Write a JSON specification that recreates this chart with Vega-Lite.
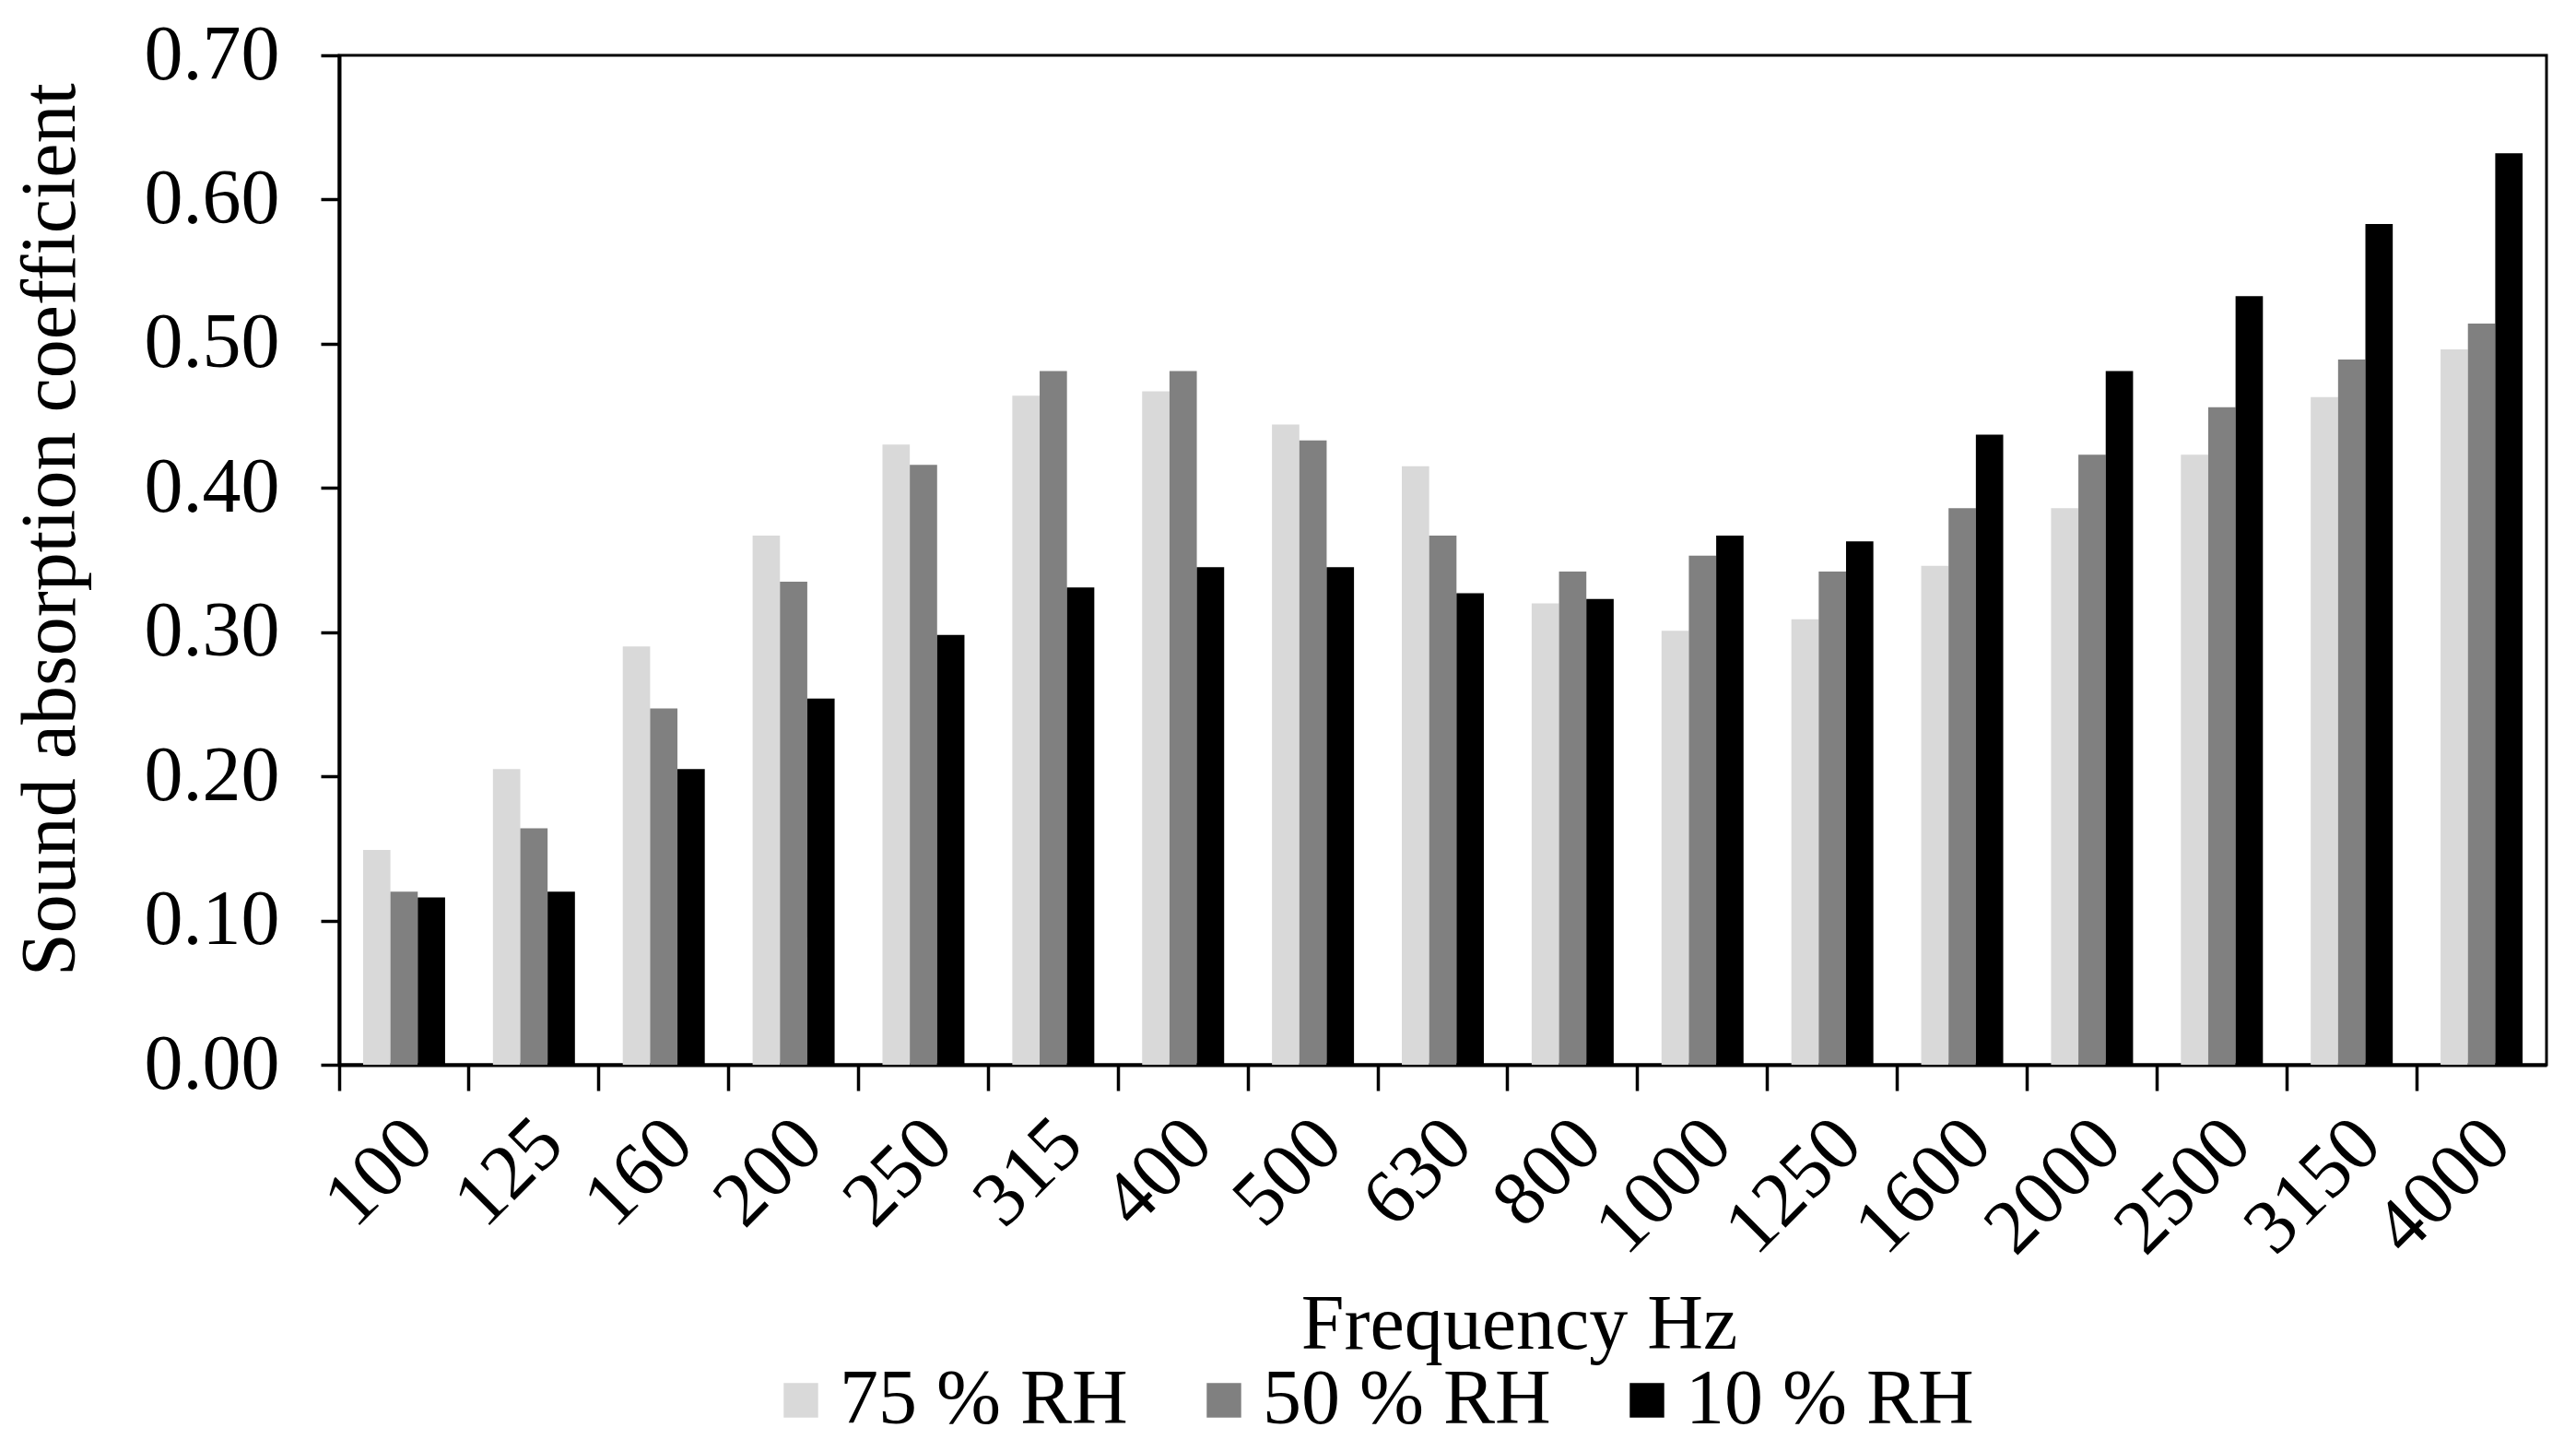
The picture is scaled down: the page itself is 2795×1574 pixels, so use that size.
{
  "$schema": "https://vega.github.io/schema/vega-lite/v6.json",
  "width": 2395,
  "height": 1095,
  "autosize": {"type": "none"},
  "padding": {"left": 368, "top": 60, "right": 32, "bottom": 419},
  "background": "white",
  "config": {
    "font": "Liberation Serif",
    "view": {"stroke": "black", "strokeWidth": 3},
    "axis": {
      "domainColor": "black",
      "domainWidth": 4,
      "tickColor": "black",
      "tickWidth": 3.5,
      "labelColor": "black",
      "titleColor": "black",
      "labelFont": "Liberation Serif",
      "titleFont": "Liberation Serif",
      "labelFontSize": 84,
      "titleFontSize": 84,
      "titleFontWeight": "normal",
      "grid": false
    }
  },
  "data": {
    "values": [
      {"freq": "100", "rh": "75 % RH", "alpha": 0.149},
      {"freq": "100", "rh": "50 % RH", "alpha": 0.120},
      {"freq": "100", "rh": "10 % RH", "alpha": 0.116},
      {"freq": "125", "rh": "75 % RH", "alpha": 0.205},
      {"freq": "125", "rh": "50 % RH", "alpha": 0.164},
      {"freq": "125", "rh": "10 % RH", "alpha": 0.120},
      {"freq": "160", "rh": "75 % RH", "alpha": 0.290},
      {"freq": "160", "rh": "50 % RH", "alpha": 0.247},
      {"freq": "160", "rh": "10 % RH", "alpha": 0.205},
      {"freq": "200", "rh": "75 % RH", "alpha": 0.367},
      {"freq": "200", "rh": "50 % RH", "alpha": 0.335},
      {"freq": "200", "rh": "10 % RH", "alpha": 0.254},
      {"freq": "250", "rh": "75 % RH", "alpha": 0.430},
      {"freq": "250", "rh": "50 % RH", "alpha": 0.416},
      {"freq": "250", "rh": "10 % RH", "alpha": 0.298},
      {"freq": "315", "rh": "75 % RH", "alpha": 0.464},
      {"freq": "315", "rh": "50 % RH", "alpha": 0.481},
      {"freq": "315", "rh": "10 % RH", "alpha": 0.331},
      {"freq": "400", "rh": "75 % RH", "alpha": 0.467},
      {"freq": "400", "rh": "50 % RH", "alpha": 0.481},
      {"freq": "400", "rh": "10 % RH", "alpha": 0.345},
      {"freq": "500", "rh": "75 % RH", "alpha": 0.444},
      {"freq": "500", "rh": "50 % RH", "alpha": 0.433},
      {"freq": "500", "rh": "10 % RH", "alpha": 0.345},
      {"freq": "630", "rh": "75 % RH", "alpha": 0.415},
      {"freq": "630", "rh": "50 % RH", "alpha": 0.367},
      {"freq": "630", "rh": "10 % RH", "alpha": 0.327},
      {"freq": "800", "rh": "75 % RH", "alpha": 0.320},
      {"freq": "800", "rh": "50 % RH", "alpha": 0.342},
      {"freq": "800", "rh": "10 % RH", "alpha": 0.323},
      {"freq": "1000", "rh": "75 % RH", "alpha": 0.301},
      {"freq": "1000", "rh": "50 % RH", "alpha": 0.353},
      {"freq": "1000", "rh": "10 % RH", "alpha": 0.367},
      {"freq": "1250", "rh": "75 % RH", "alpha": 0.309},
      {"freq": "1250", "rh": "50 % RH", "alpha": 0.342},
      {"freq": "1250", "rh": "10 % RH", "alpha": 0.363},
      {"freq": "1600", "rh": "75 % RH", "alpha": 0.346},
      {"freq": "1600", "rh": "50 % RH", "alpha": 0.386},
      {"freq": "1600", "rh": "10 % RH", "alpha": 0.437},
      {"freq": "2000", "rh": "75 % RH", "alpha": 0.386},
      {"freq": "2000", "rh": "50 % RH", "alpha": 0.423},
      {"freq": "2000", "rh": "10 % RH", "alpha": 0.481},
      {"freq": "2500", "rh": "75 % RH", "alpha": 0.423},
      {"freq": "2500", "rh": "50 % RH", "alpha": 0.456},
      {"freq": "2500", "rh": "10 % RH", "alpha": 0.533},
      {"freq": "3150", "rh": "75 % RH", "alpha": 0.463},
      {"freq": "3150", "rh": "50 % RH", "alpha": 0.489},
      {"freq": "3150", "rh": "10 % RH", "alpha": 0.583},
      {"freq": "4000", "rh": "75 % RH", "alpha": 0.496},
      {"freq": "4000", "rh": "50 % RH", "alpha": 0.514},
      {"freq": "4000", "rh": "10 % RH", "alpha": 0.632}
    ]
  },
  "mark": {"type": "bar"},
  "encoding": {
    "x": {
      "field": "freq",
      "type": "nominal",
      "sort": null,
      "scale": {"paddingInner": 0, "paddingOuter": 0},
      "axis": {
        "title": "Frequency Hz",
        "bandPosition": 0,
        "labelOffset": 18,
        "labelAngle": -45,
        "labelAlign": "right",
        "labelBaseline": "middle",
        "labelPadding": 44,
        "tickSize": 28,
        "titleX": 1280,
        "titleY": 307,
        "titleBaseline": "alphabetic"
      }
    },
    "xOffset": {
      "field": "rh",
      "type": "nominal",
      "scale": {
        "domain": ["75 % RH", "50 % RH", "10 % RH"],
        "paddingInner": 0,
        "paddingOuter": 0.875
      }
    },
    "y": {
      "field": "alpha",
      "type": "quantitative",
      "scale": {"domain": [0, 0.7], "nice": false},
      "axis": {
        "title": "Sound absorption coefficient",
        "values": [0, 0.1, 0.2, 0.3, 0.4, 0.5, 0.6, 0.7],
        "format": ".2f",
        "tickSize": 20,
        "labelPadding": 45,
        "titleX": -288,
        "titleY": 514,
        "titleBaseline": "alphabetic",
        "titleAngle": -90
      }
    },
    "color": {
      "field": "rh",
      "type": "nominal",
      "scale": {
        "domain": ["75 % RH", "50 % RH", "10 % RH"],
        "range": ["#d9d9d9", "#808080", "#000000"]
      },
      "legend": {
        "title": null,
        "orient": "none",
        "direction": "horizontal",
        "legendX": 459,
        "legendY": 1417,
        "symbolType": "square",
        "symbolSize": 1400,
        "symbolStrokeWidth": 0,
        "labelFont": "Liberation Serif",
        "labelFontSize": 84,
        "labelColor": "black",
        "labelOffset": 0,
        "columnPadding": 62,
        "labelLimit": 0
      }
    }
  }
}
